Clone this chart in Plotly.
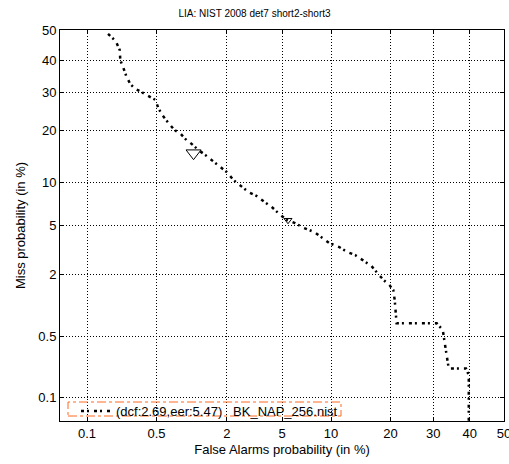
import plotly.graph_objects as go
from statistics import NormalDist

nd = NormalDist()
def probit(p):
    return nd.inv_cdf(p / 100.0)

# DET curve values (in %)
fa_pct = [0.167, 0.20, 0.22, 0.223, 0.24, 0.256, 0.28, 0.314, 0.36, 0.42, 0.49, 0.52,
          0.567, 0.644, 0.73, 0.83, 0.93, 1.03, 1.18, 1.35, 1.51, 1.72, 1.99, 2.26,
          2.55, 2.93, 3.35, 3.82, 4.34, 4.85, 5.39, 6.07, 6.92, 7.97, 8.9, 9.75, 11.1,
          12.3, 13.5, 14.9, 16.3, 17.4, 18.6, 19.8, 20.6, 20.9, 21.1, 21.3, 30.9, 32.5,
          33.0, 33.6, 34.1, 38.9, 39.7, 39.7]
miss_pct = [48.7, 46.3, 43.3, 40.0, 37.4, 34.9, 32.5, 31.0, 30.1, 28.9, 27.8, 25.6,
            23.7, 21.7, 20.0, 19.1, 17.7, 16.9, 15.6, 14.6, 13.7, 12.6, 11.6, 10.3,
            9.5, 8.6, 8.1, 7.4, 6.7, 6.0, 5.5, 5.2, 4.78, 4.46, 4.0, 3.65, 3.39,
            3.08, 2.91, 2.59, 2.35, 2.04, 1.77, 1.59, 1.43, 1.15, 0.92, 0.68, 0.68, 0.58,
            0.43, 0.31, 0.22, 0.22, 0.184, 0.03]

dcf_point = (1.07, 15.0)
eer_point = (5.47, 5.47)

tick_vals = [0.1, 0.5, 2, 5, 10, 20, 30, 40, 50]
tick_text = ["0.1", "0.5", "2", "5", "10", "20", "30", "40", "50"]
legend_name = "(dcf:2.69,eer:5.47)   BK_NAP_256.nist"
title = "LIA: NIST 2008 det7 short2-short3"

lo = probit(0.05)
FONT = "Liberation Sans, Arial, sans-serif"

fig = go.Figure()
fig.add_trace(go.Scatter(
    x=[probit(v) for v in fa_pct], y=[probit(v) for v in miss_pct],
    mode="lines", name=legend_name,
    line=dict(color="black", width=2.5, dash="3px,3px,2px,5px"),
))
fig.add_trace(go.Scatter(
    x=[probit(dcf_point[0])], y=[probit(dcf_point[1])], mode="markers", showlegend=False,
    marker=dict(symbol="triangle-down-open", size=13, color="black", line=dict(width=1)),
))
fig.add_trace(go.Scatter(
    x=[probit(eer_point[0])], y=[probit(eer_point[1])], mode="markers", showlegend=False,
    marker=dict(symbol="triangle-down-open", size=7, color="black", line=dict(width=1)),
))

axis_common = dict(
    range=[lo, 0], tickvals=[probit(v) for v in tick_vals], ticktext=tick_text,
    showgrid=True, gridcolor="black", griddash="1px,2px", gridwidth=1,
    showline=True, linecolor="black", linewidth=1, mirror="ticks",
    ticks="inside", ticklen=4, tickcolor="black", automargin=False,
    ticklabeloverflow="allow",
    zeroline=False, tickfont=dict(size=13, color="black", family=FONT),
)
fig.update_xaxes(**axis_common, title=dict(text="False Alarms probability (in %)",
                 font=dict(size=13, color="black", family=FONT), standoff=5))
fig.update_yaxes(**axis_common, title=dict(text="Miss probability (in %)",
                 font=dict(size=13, color="black", family=FONT), standoff=9))

fig.add_shape(type="rect", xref="paper", yref="paper",
              x0=(68 - 60) / 444, x1=(341 - 60) / 444,
              y0=1 - (416 - 30) / 391, y1=1 - (402 - 30) / 391,
              line=dict(color="#ff6a20", width=1, dash="dashdot"))

fig.update_layout(
    width=509, height=464,
    margin=dict(l=60, r=5, t=30, b=43, autoexpand=False),
    paper_bgcolor="white", plot_bgcolor="white",
    font=dict(family=FONT, size=13, color="black"),
    title=dict(text=title, x=0.5, xanchor="center", y=1 - 13 / 464, yanchor="middle",
               font=dict(size=10, color="black", family=FONT), automargin=False),
    legend=dict(x=(76 - 60) / 444, y=1 - (396 - 30) / 391, xanchor="left", yanchor="top",
                bgcolor="rgba(0,0,0,0)", borderwidth=0, font=dict(size=13, family=FONT),
                tracegroupgap=0, itemwidth=30),
    showlegend=True,
)

fig.write_html("out.html", config={"displayModeBar": False},
               post_script="document.body.style.margin='0';document.body.style.overflow='hidden';")
